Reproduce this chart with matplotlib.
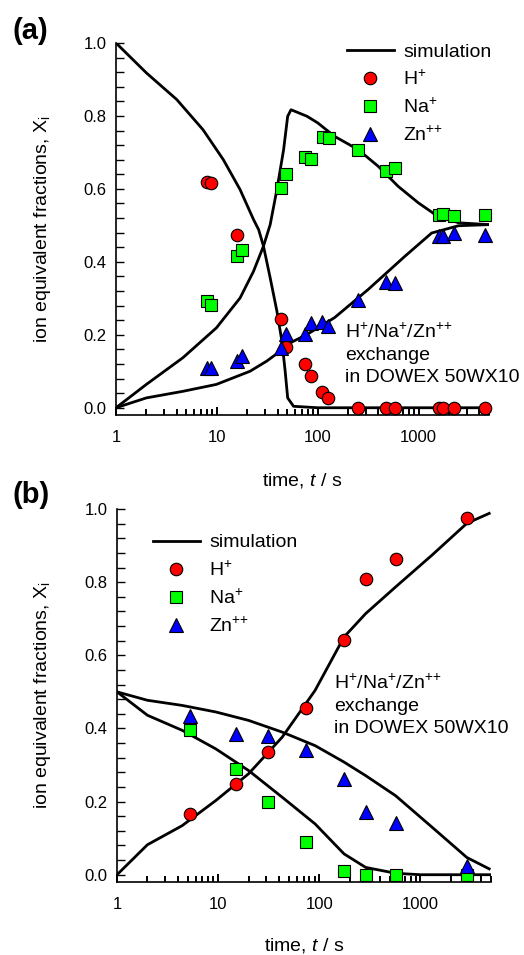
import matplotlib
matplotlib.use('Agg')
import matplotlib.pyplot as plt
from matplotlib.ticker import MultipleLocator, LogLocator, NullFormatter

plt.rcParams['font.family'] = ['Liberation Sans', 'DejaVu Sans']
plt.rcParams['mathtext.fontset'] = 'custom'
plt.rcParams['mathtext.rm'] = 'Liberation Sans'
plt.rcParams['mathtext.it'] = 'Liberation Sans:italic'
plt.rcParams['mathtext.bf'] = 'Liberation Sans:bold'

# ---- ejes comunes ----
x_ticks = [1, 10, 100, 1000]
x_tick_labels = ['1', '10', '100', '1000']
y_ticks = [0.0, 0.2, 0.4, 0.6, 0.8, 1.0]
y_tick_labels = ['0.0', '0.2', '0.4', '0.6', '0.8', '1.0']
etiquetas_leyenda = ['simulation', 'H$^{+}$', 'Na$^{+}$', 'Zn$^{\\text{++}}$']
texto_sistema = ['H$^{+}$/Na$^{+}$/Zn$^{\\text{++}}$', 'exchange', 'in DOWEX 50WX10']

# ---- (a) datos experimentales ----
t_h_a = [8.0, 8.8, 15.7, 43.2, 48.4, 74.8, 86, 110, 128, 251, 481, 591, 1590, 1750, 2270, 4550]
x_h_a = [0.618, 0.616, 0.474, 0.242, 0.167, 0.119, 0.088, 0.044, 0.027,
         0.0, 0.0, 0.0, 0.0, 0.0, 0.0, 0.0]
t_na_a = [8.0, 8.8, 15.7, 17.9, 43.2, 48.4, 74.8, 86, 112, 129, 251, 481, 591, 1590, 1750, 2270, 4550]
x_na_a = [0.292, 0.283, 0.417, 0.432, 0.603, 0.641, 0.688, 0.682, 0.741, 0.739, 0.706,
          0.650, 0.657, 0.529, 0.530, 0.525, 0.528]
t_zn_a = [8.0, 8.8, 15.7, 17.9, 43.2, 48.4, 74.8, 86, 110, 128, 251, 481, 591, 1590, 1750, 2270, 4550]
x_zn_a = [0.110, 0.110, 0.128, 0.143, 0.164, 0.201, 0.201, 0.233, 0.235, 0.224, 0.295,
          0.344, 0.342, 0.471, 0.470, 0.478, 0.474]

# ---- (a) simulacion ----
t_sim_h_a = [1, 2, 4, 7.3, 11.6, 17, 23.1, 26, 29, 33.8, 39.4, 44.2, 47.6, 50.4, 57.6, 100, 1000, 5000]
x_sim_h_a = [1.0, 0.918, 0.845, 0.762, 0.680, 0.598, 0.516, 0.488, 0.443, 0.356, 0.265,
             0.182, 0.100, 0.027, 0.004, 0.0, 0.0, 0.0]
t_sim_na_a = [1, 2, 4.6, 9.9, 17, 23.1, 29, 33.8, 39.4, 45.9, 50.4, 54.4, 78.4, 100,
              147, 251, 398, 628, 993, 1458, 2494, 5000]
x_sim_na_a = [0.0, 0.064, 0.137, 0.219, 0.301, 0.374, 0.443, 0.502, 0.598, 0.707, 0.799,
              0.817, 0.799, 0.781, 0.744, 0.708, 0.662, 0.607, 0.562, 0.530, 0.507, 0.502]
t_sim_zn_a = [1, 2, 4.6, 9.9, 21.3, 31.3, 42.5, 53.5, 78.4, 147, 316, 731, 1350, 2494, 5000]
x_sim_zn_a = [0.0, 0.027, 0.045, 0.064, 0.100, 0.128, 0.155, 0.178, 0.201, 0.247, 0.324,
              0.415, 0.479, 0.499, 0.502]

# ---- (b) datos experimentales ----
t_b = [5.3, 15, 31, 74, 176, 290, 575, 2900]
x_h_b = [0.166, 0.248, 0.335, 0.456, 0.641, 0.808, 0.862, 0.976]
x_na_b = [0.397, 0.288, 0.200, 0.090, 0.011, 0.0, 0.0, 0.0]
x_zn_b = [0.434, 0.386, 0.378, 0.342, 0.262, 0.171, 0.141, 0.023]

# ---- (b) simulacion ----
t_sim_h_b = [1, 2, 4.4, 9.5, 20, 43, 91, 176, 288, 570, 1306, 2890, 4800]
x_sim_h_b = [0.0, 0.082, 0.134, 0.203, 0.276, 0.376, 0.504, 0.650, 0.714, 0.787, 0.874, 0.961, 0.988]
t_sim_na_b = [1, 2, 4.4, 9.5, 20, 43, 91, 176, 288, 570, 1000, 5000]
x_sim_na_b = [0.5, 0.436, 0.395, 0.344, 0.285, 0.212, 0.139, 0.057, 0.020, 0.004, 0.0, 0.0]
t_sim_zn_b = [1, 2, 4.4, 9.5, 20, 43, 91, 176, 288, 570, 1306, 2890, 4800]
x_sim_zn_b = [0.5, 0.477, 0.463, 0.445, 0.422, 0.390, 0.353, 0.308, 0.271, 0.216, 0.130, 0.047, 0.016]


def configurar_ejes(ax):
    """Ejes log en tiempo, fracciones de 0 a 1, ticks hacia dentro"""
    ax.set_xscale('log')
    ax.set_xlim(1, 5000)
    ax.set_ylim(-0.02, 1.0)
    for lado in ['top', 'right']:
        ax.spines[lado].set_visible(False)
    for lado in ['left', 'bottom']:
        ax.spines[lado].set_linewidth(1.2)
    ax.set_xticks(x_ticks)
    ax.set_xticklabels(x_tick_labels)
    ax.xaxis.set_minor_locator(LogLocator(base=10, subs=range(2, 10), numticks=20))
    ax.xaxis.set_minor_formatter(NullFormatter())
    ax.set_yticks(y_ticks)
    ax.set_yticklabels(y_tick_labels)
    ax.yaxis.set_minor_locator(MultipleLocator(0.04))
    ax.tick_params(axis='x', which='major', direction='in', length=6, width=1.4, pad=11, labelsize=12)
    ax.tick_params(axis='x', which='minor', direction='in', length=4.5, width=1.4)
    ax.tick_params(axis='y', which='both', direction='in', length=6, width=1, pad=7, labelsize=12)
    ax.set_xlabel('time, $t$ / s', fontsize=14)
    ax.set_ylabel('ion equivalent fractions, X$_\\mathregular{i}$', fontsize=14)


def dibujar_panel(ax, sims, datos):
    # curvas de simulacion
    for k, (t, x) in enumerate(sims):
        ax.plot(t, x, color='black', lw=2.0, zorder=2,
                label=etiquetas_leyenda[0] if k == 0 else None)
    # puntos experimentales
    estilos = [('o', '#ff0000', 9.0), ('s', '#00ff00', 8.0), ('^', '#0000ff', 9.5)]
    for (t, x), (mk, col, ms), lab in zip(datos, estilos, etiquetas_leyenda[1:]):
        ax.plot(t, x, ls='none', marker=mk, ms=ms, mfc=col, mec='black', mew=0.8,
                zorder=3, clip_on=False, label=lab)


fig = plt.figure(figsize=(5.24, 9.55), dpi=100)
ax_a = fig.add_axes([0.2214, 0.5654, 0.7118, 0.3896])
ax_b = fig.add_axes([0.2233, 0.0764, 0.7137, 0.3906])

dibujar_panel(ax_a,
              [(t_sim_h_a, x_sim_h_a), (t_sim_na_a, x_sim_na_a), (t_sim_zn_a, x_sim_zn_a)],
              [(t_h_a, x_h_a), (t_na_a, x_na_a), (t_zn_a, x_zn_a)])
dibujar_panel(ax_b,
              [(t_sim_h_b, x_sim_h_b), (t_sim_na_b, x_sim_na_b), (t_sim_zn_b, x_sim_zn_b)],
              [(t_b, x_h_b), (t_b, x_na_b), (t_b, x_zn_b)])

for ax, xl, yl in [(ax_a, -0.175, -0.196), (ax_b, -0.169, -0.198)]:
    configurar_ejes(ax)
    ax.xaxis.set_label_coords(0.5, xl)
    ax.xaxis.label.set_verticalalignment('center')
    ax.yaxis.set_label_coords(yl, 0.5)
    ax.yaxis.label.set_verticalalignment('center')

# leyendas sin marco
leg_a = ax_a.legend(loc='upper left', bbox_to_anchor=(0.662, 0.955), bbox_transform=fig.transFigure,
                    frameon=False, fontsize=14, handlelength=2.4, handletextpad=0.5,
                    labelspacing=0.45, borderpad=0, borderaxespad=0)
leg_b = ax_b.legend(loc='upper left', bbox_to_anchor=(0.292, 0.441), bbox_transform=fig.transFigure,
                    frameon=False, fontsize=14, handlelength=2.4, handletextpad=0.5,
                    labelspacing=0.45, borderpad=0, borderaxespad=0)

# texto del sistema de intercambio
for x0, bases in [(345, [338, 360, 382]), (334, [689, 711, 733])]:
    for linea, yb in zip(texto_sistema, bases):
        fig.text(x0 / 524, 1 - yb / 955, linea, fontsize=14, ha='left', va='baseline')

fig.text(12 / 524, 1 - 31 / 955, '(a)', fontsize=21, fontweight='bold', ha='left', va='center')
fig.text(12 / 524, 1 - 495 / 955, '(b)', fontsize=21, fontweight='bold', ha='left', va='center')

plt.savefig('out.png', dpi=100)
plt.close()
